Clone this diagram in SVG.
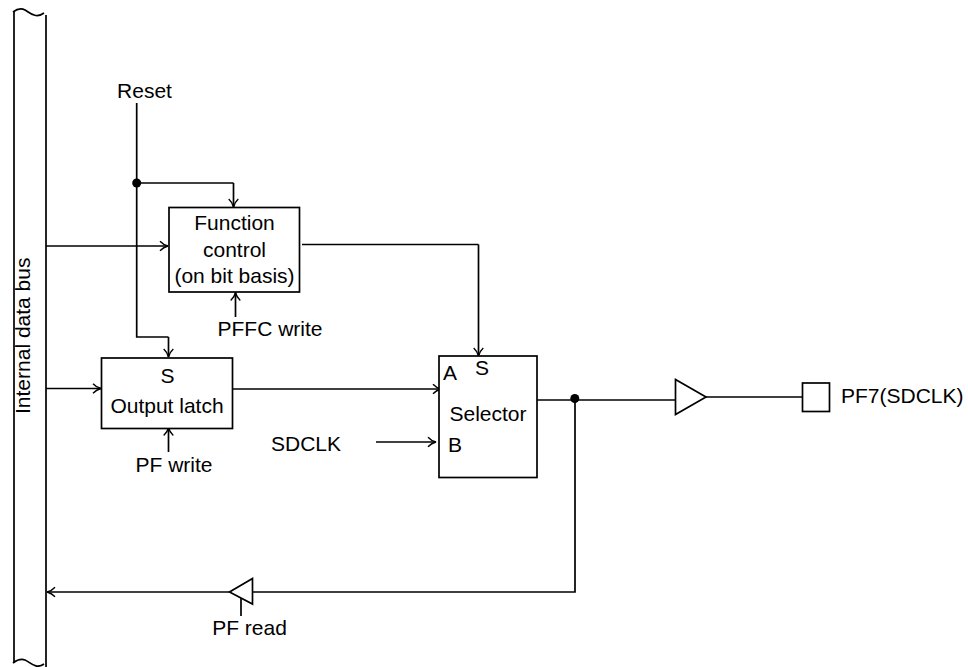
<svg xmlns="http://www.w3.org/2000/svg" width="968" height="667" viewBox="0 0 968 667">
<style>
text{font-family:"Liberation Sans",Arial,sans-serif;font-size:21px;fill:#000}
.m{text-anchor:middle}
.b{fill:#fff;stroke:#000;stroke-width:1.7}
.l{fill:none;stroke:#000;stroke-width:1.7}
.a{fill:none;stroke:#000;stroke-width:1.7;marker-end:url(#arr)}
</style>
<defs>
<marker id="arr" markerUnits="userSpaceOnUse" markerWidth="12" markerHeight="12" refX="10" refY="6" orient="auto">
<path d="M2 1.200Q5.500 5 10 6Q5.500 7 2 10.800" fill="none" stroke="#000" stroke-width="1.400"/>
</marker>
</defs>
<g id="connectors">
<path class="a" d="M46 246H168"/>
<path class="l" d="M136.700 103V337H168.500"/>
<path class="a" d="M168.500 337V357"/>
<path class="l" d="M137 183H233.500"/>
<path class="a" d="M233.500 183V207"/>
<path class="a" d="M235.500 317V292.500"/>
<path class="a" d="M46 388.500H101"/>
<path class="a" d="M168.500 452V427.500"/>
<path class="l" d="M302 244.500H478.500"/>
<path class="a" d="M478.500 244.500V356"/>
<path class="a" d="M232 389H441"/>
<path class="a" d="M376 442H436"/>
<path class="l" d="M537 400H675"/>
<path class="l" d="M706 397H803"/>
<path class="l" d="M575 400V592H253"/>
<path class="a" d="M229 592H47"/>
<path class="l" d="M241 598V616"/>
</g>
<g id="bus">
<path class="l" d="M14 12V663M46 15V667"/>
<path class="l" d="M13 12C17 9 21 8 25 10C30 13 36 19 44 13"/>
<path class="l" d="M13 663C17 660 21 658.500 25 660C30 662 36 670 44 664"/>
<text transform="translate(29.500 414) rotate(-90)">Internal data bus</text>
</g>
<g id="reset-label"><text x="144.500" y="98" class="m">Reset</text></g>
<circle id="junction-reset" cx="136.700" cy="183" r="4.500"/>
<g id="function-control">
<rect class="b" x="169" y="207.500" width="130.500" height="84.500"/>
<text x="234.500" y="230" class="m">Function</text>
<text x="234.500" y="257" class="m">control</text>
<text x="234.500" y="283" class="m">(on bit basis)</text>
</g>
<g id="pffc-write"><text x="270" y="336" class="m">PFFC write</text></g>
<g id="output-latch">
<rect class="b" x="101.500" y="358" width="131" height="70.500"/>
<text x="167.500" y="383" class="m">S</text>
<text x="167" y="413" class="m">Output latch</text>
</g>
<g id="pf-write"><text x="174" y="472" class="m">PF write</text></g>
<g id="sdclk"><text x="306" y="451" class="m">SDCLK</text></g>
<g id="selector">
<rect class="b" x="439" y="356" width="98" height="121.500"/>
<text x="443" y="380">A</text>
<text x="482" y="375" class="m">S</text>
<text x="488" y="421" class="m">Selector</text>
<text x="448" y="452">B</text>
</g>
<circle id="junction-out" cx="574.800" cy="398.500" r="4.500"/>
<polygon id="output-buffer" class="b" points="675.500,379.500 675.500,414.500 706,397"/>
<g id="pin">
<rect class="b" x="802.500" y="383" width="27" height="28.500"/>
<text x="841" y="403">PF7(SDCLK)</text>
</g>
<polygon id="read-buffer" class="b" points="252.500,578.500 252.500,604 229.500,592"/>
<g id="pf-read"><text x="249.500" y="635" class="m">PF read</text></g>
</svg>
